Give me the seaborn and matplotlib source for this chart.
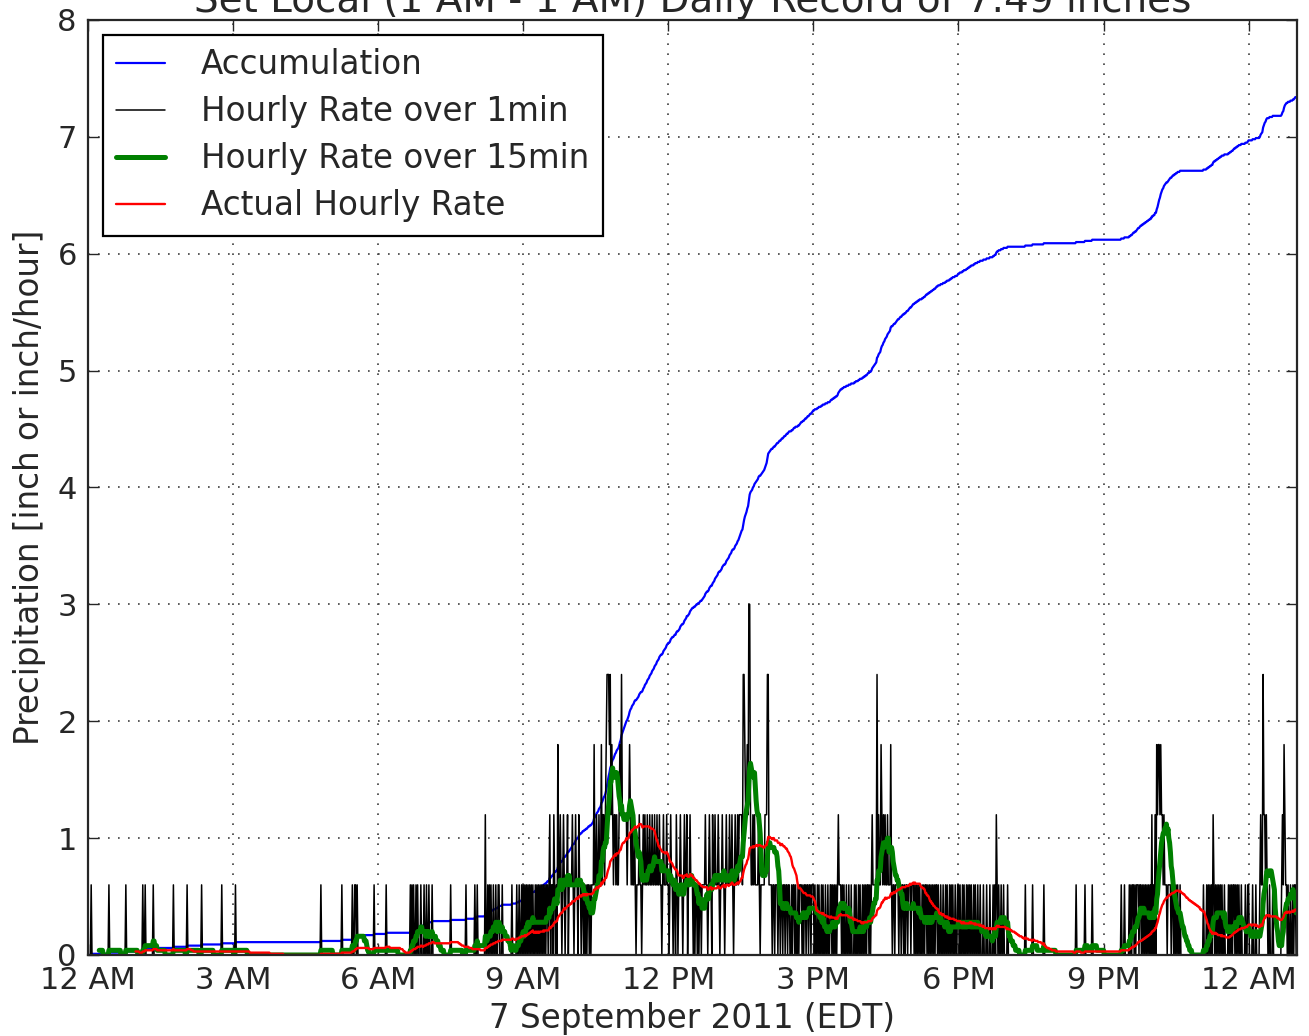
"""
Rain gauge record, 7 September 2011 — accumulation and hourly rates
from the one-minute tip counts of a 0.01 inch tipping bucket.
"""

import numpy as np
import pandas as pd
import matplotlib
matplotlib.use('Agg')
import matplotlib.pyplot as plt
import seaborn as sns

# ============================================================
# DATA — bucket tips (0.01 inch) per minute, one row per hour,
# six blocks of ten minutes each
# ============================================================
TIPS_PER_MINUTE = [
    "0000100000 0000000000 0000001000 0000000000 0000000100 0000000000",  # 12 AM
    "0000000010 0100000000 0100000000 0000000000 0000001000 0000000000",  # 1 AM
    "0001000000 0000000000 0100000000 0000000000 0000001000 0000000000",  # 2 AM
    "0001000000 0000000000 0000000000 0000000000 0000000000 0000000000",  # 3 AM
    "0000000000 0000000000 0000000000 0000000000 0000000001 0000000000",  # 4 AM
    "0000000000 0000010000 0000000010 0110100000 0000000000 0000010000",  # 5 AM
    "0000000000 1000000000 0000000000 0000000000 1010100101 0001000100",  # 6 AM
    "1001000100 0000000000 0000000000 1000000000 0000000001 0000000000",  # 7 AM
    "1001000000 0002001010 1001001001 1000100000 0000001000 0010010010",  # 8 AM
    "1010101010 1010010101 0101010101 1012011021 0103112101 2101120111",  # 9 AM
    "1210121102 1101101010 1101011131 1211211312 2123444342 3212212112",  # 10 AM
    "3242222221 2232121121 0111211012 1211211211 2112112112 1101211121",  # 11 AM
    "1012110110 2101121101 2112011211 1010110101 1011112110 1211021121",  # 12 PM
    "1121011211 0121112112 1012112122 2214432232 5521121211 1121011111",  # 1 PM
    "2224411110 1101110110 1101101101 1001011010 0101110101 1011011011",  # 2 PM
    "1010010100 1010010010 0110101010 1211101010 0100100100 0101001010",  # 3 PM
    "0101010110 1012111114 1211321212 1121113101 1011110110 1101011011",  # 4 PM
    "1011101010 1010010101 1010101010 1011010010 0100101001 0101001001",  # 5 PM
    "1010010100 1010101001 0100100100 0100010001 0001010210 1001001000",  # 6 PM
    "0100000000 0000000000 0001000000 0010000000 0000001000 0000000000",  # 7 PM
    "0000000000 0000000000 0000001000 0000000100 0000001000 0000000000",  # 8 PM
    "0000000000 0000000000 0010001000 0010101101 0111011010 1010101010",  # 9 PM
    "2010203233 2322121110 1111011010 1010010000 0000000000 0000000000",  # 10 PM
    "0000100010 1010102101 0101010100 1000010101 0110101010 0100001001",  # 11 PM
    "1000010001 0000121142 2121001000 1000000000 0121321101 0010010110",  # 12 AM
]
BUCKET_INCH = 0.01

TICK_HOURS  = [0, 3, 6, 9, 12, 15, 18, 21, 24]
TICK_LABELS = ['12 AM', '3 AM', '6 AM', '9 AM', '12 PM',
               '3 PM', '6 PM', '9 PM', '12 AM']
Y_TICKS     = [0, 1, 2, 3, 4, 5, 6, 7, 8]

SERIES = ['Accumulation', 'Hourly Rate over 1min',
          'Hourly Rate over 15min', 'Actual Hourly Rate']
COLORS = ['#0000ff', '#000000', '#008000', '#ff0000']
WIDTHS = [1.6, 1.1, 3.6, 1.7]

TITLE  = 'Set Local (1 AM - 1 AM) Daily Record of 7.49 inches'
XLABEL = '7 September 2011 (EDT)'
YLABEL = 'Precipitation [inch or inch/hour]'

# ============================================================
# Derived series
# ============================================================
tips = pd.Series([int(c) for row in TIPS_PER_MINUTE for c in row.replace(' ', '')])
df = pd.DataFrame({'hours': np.arange(len(tips)) / 60.0})
df[SERIES[0]] = tips.cumsum() * BUCKET_INCH
df[SERIES[1]] = tips * BUCKET_INCH * 60
df[SERIES[2]] = tips.rolling(15).sum() * BUCKET_INCH * 4
df[SERIES[3]] = tips.rolling(60).sum() * BUCKET_INCH

# ============================================================
# Figure
# ============================================================
sns.set_style('ticks')
plt.rcParams.update({
    'font.family': ['DejaVu Sans'],
    'font.size': 22,
    'axes.linewidth': 1.6,
    'xtick.direction': 'in', 'ytick.direction': 'in',
    'xtick.top': True, 'ytick.right': True,
    'xtick.major.size': 8, 'ytick.major.size': 8,
    'xtick.major.width': 1.0, 'ytick.major.width': 1.0,
    'xtick.major.pad': 8, 'ytick.major.pad': 8,
    'xtick.labelsize': 22, 'ytick.labelsize': 22,
})

fig = plt.figure(figsize=(13.09, 10.36), dpi=100)
ax = fig.add_axes([0.0672, 0.0782, 0.9236, 0.9025])

for name, color, lw in zip(SERIES, COLORS, WIDTHS):
    sns.lineplot(data=df, x='hours', y=name, color=color, linewidth=lw,
                 label=name, estimator=None, ax=ax)

ax.set_xlim(0, 25)
ax.set_ylim(0, 8)
ax.set_xticks(TICK_HOURS)
ax.set_xticklabels(TICK_LABELS)
ax.set_yticks(Y_TICKS)
ax.grid(True, color='0.25', linestyle=(0, (1, 5)), linewidth=1.2)

ax.set_xlabel(XLABEL, fontsize=23.5, labelpad=5)
ax.set_ylabel(YLABEL, fontsize=23.5, labelpad=8)
ax.set_title(TITLE, fontsize=28, pad=5)

leg = ax.legend(loc='upper left', fontsize=23.5, frameon=True, fancybox=False,
                framealpha=1, edgecolor='black', handlelength=1.5,
                handletextpad=1.1, labelspacing=0.43, borderpad=0.42,
                borderaxespad=0.45)
leg.get_frame().set_linewidth(1.6)

fig.savefig('out.png', dpi=100)
plt.close(fig)
